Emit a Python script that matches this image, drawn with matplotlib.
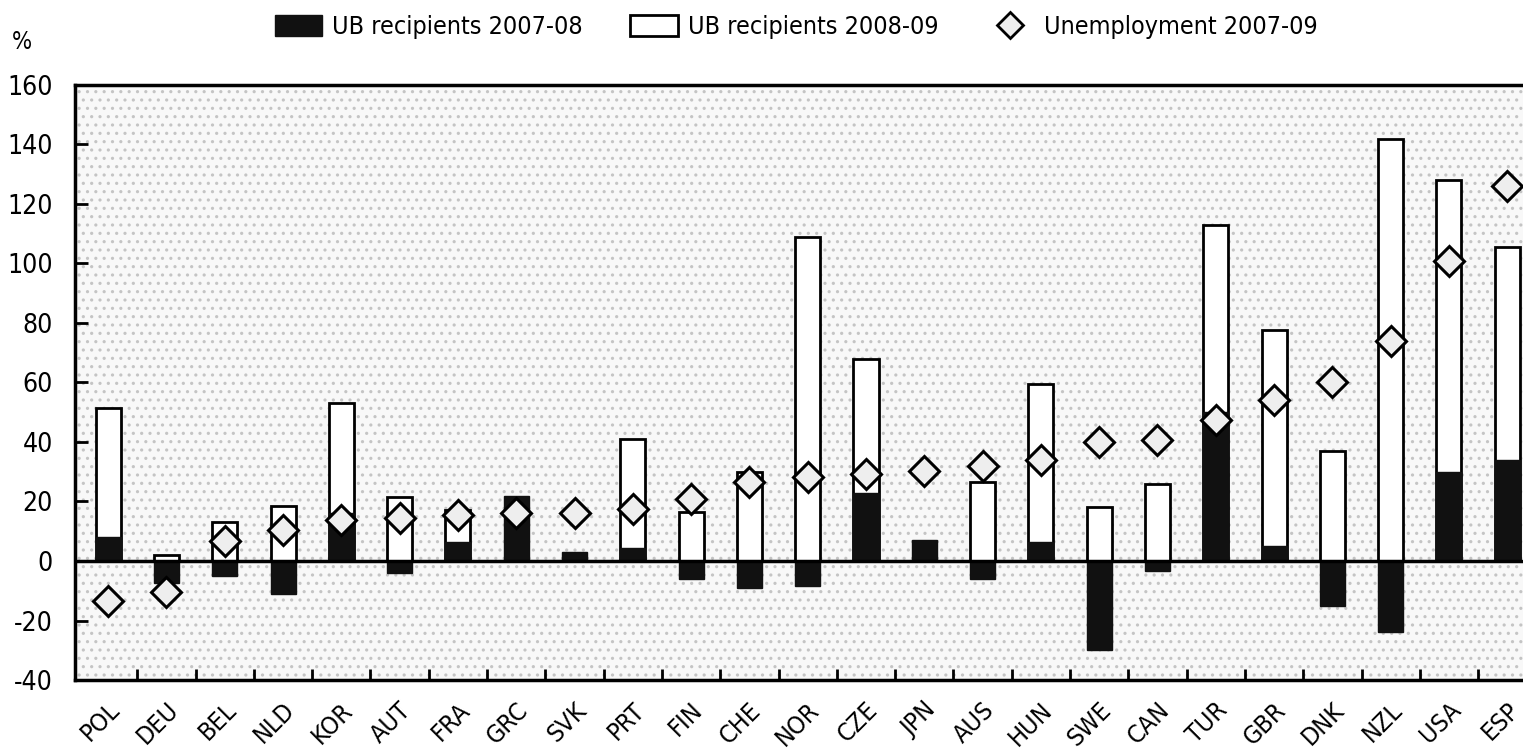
import matplotlib
matplotlib.use("Agg")
import matplotlib.pyplot as plt
import matplotlib.transforms as mtransforms
from matplotlib.patches import Patch, Rectangle
from matplotlib.lines import Line2D
import numpy as np

plt.rcParams['font.family'] = ['DejaVu Sans']
plt.rcParams['font.stretch'] = 'condensed'
plt.rcParams['hatch.linewidth'] = 1.1

countries = ["POL", "DEU", "BEL", "NLD", "KOR", "AUT", "FRA", "GRC", "SVK", "PRT",
             "FIN", "CHE", "NOR", "CZE", "JPN", "AUS", "HUN", "SWE", "CAN", "TUR",
             "GBR", "DNK", "NZL", "USA", "ESP"]
# change in unemployment benefit recipients, %
ub_2007_08 = [8, -7.5, -5, -11, 16, -4, 6.5, 22, 3, 4.5,
              -6, -9, -8.5, 23, 7, -6, 6.5, -30, -3.5, 50,
              5, -15, -24, 30, 34]
ub_2008_09 = [51.5, 2, 13, 18.5, 53, 21.5, 17, 0, 0, 41,
              16.5, 30, 109, 68, 0, 26.5, 59.5, 18, 26, 113,
              77.5, 37, 142, 128, 105.5]
# change in unemployment, %
unemp_2007_09 = [-13.3, -10.5, 6.6, 10.4, 13.8, 14.3, 15.5, 16, 16.2, 17.6,
                 20.8, 26.6, 28.2, 29.2, 30.3, 32, 34, 40, 40.6, 47.5,
                 54.2, 60.2, 74, 101, 126]

yticks = [-40, -20, 0, 20, 40, 60, 80, 100, 120, 140, 160]


def main():
    fig = plt.figure(figsize=(15.23, 7.48), dpi=100)
    ax = fig.add_axes([0.0492, 0.0909, 0.9508, 0.7955])

    x = np.arange(len(countries))
    w = 0.43

    # stippled background
    bg = Rectangle((0, 0), 1, 1, transform=ax.transAxes, facecolor='#f8f8f8',
                   edgecolor='#c4c4c4', hatch='..', linewidth=0, zorder=0)
    ax.add_patch(bg)

    ax.bar(x, ub_2008_09, width=w, color='white', edgecolor='black', linewidth=2, zorder=2)
    ax.bar(x, ub_2007_08, width=w, color='#111111', edgecolor='#111111', linewidth=1, zorder=3)
    ax.axhline(0, color='black', linewidth=2.5, zorder=4)
    ax.plot(x, unemp_2007_09, linestyle='none', marker='D', markersize=15,
            markerfacecolor='#eeeeee', markeredgecolor='black', markeredgewidth=2.2, zorder=5)

    ax.set_xlim(-0.57, 24.27)
    ax.set_ylim(-40, 160)
    ax.set_yticks(yticks)
    ax.set_yticklabels([str(v) for v in yticks], fontsize=19)
    ax.tick_params(axis='y', direction='in', length=9, width=2, pad=16)

    ax.set_xticks(x)
    ax.set_xticklabels(countries, fontsize=18, rotation=45, ha='right', va='center',
                       rotation_mode='anchor')
    ax.set_xticks(x[:-1] + 0.5, minor=True)
    ax.tick_params(axis='x', which='major', length=0, pad=19)
    ax.tick_params(axis='x', which='minor', direction='in', length=8, width=2)
    shift = mtransforms.ScaledTranslation(8 / 100, 0, fig.dpi_scale_trans)
    for lbl in ax.get_xticklabels():
        lbl.set_transform(lbl.get_transform() + shift)

    for side in ['top', 'left', 'bottom']:
        ax.spines[side].set_linewidth(2.5)
    ax.spines['right'].set_visible(False)

    fig.text(22 / 1523, 1 - 42 / 748, '%', fontsize=17, ha='center', va='center')

    handles = [
        Patch(facecolor='#111111', edgecolor='#111111'),
        Patch(facecolor='white', edgecolor='black', linewidth=2),
        Line2D([], [], linestyle='none', marker='D', markersize=13,
               markerfacecolor='#eeeeee', markeredgecolor='black', markeredgewidth=2),
    ]
    labels = ['UB recipients 2007-08', 'UB recipients 2008-09', 'Unemployment 2007-09']
    fig.legend(handles, labels, loc='center', bbox_to_anchor=(796 / 1523, 1 - 27 / 748),
               ncol=3, frameon=False, fontsize=18, handlelength=1.9, handleheight=0.9,
               handletextpad=0.4, columnspacing=1.9)

    fig.savefig('out.png', dpi=100)


if __name__ == "__main__":
    main()
